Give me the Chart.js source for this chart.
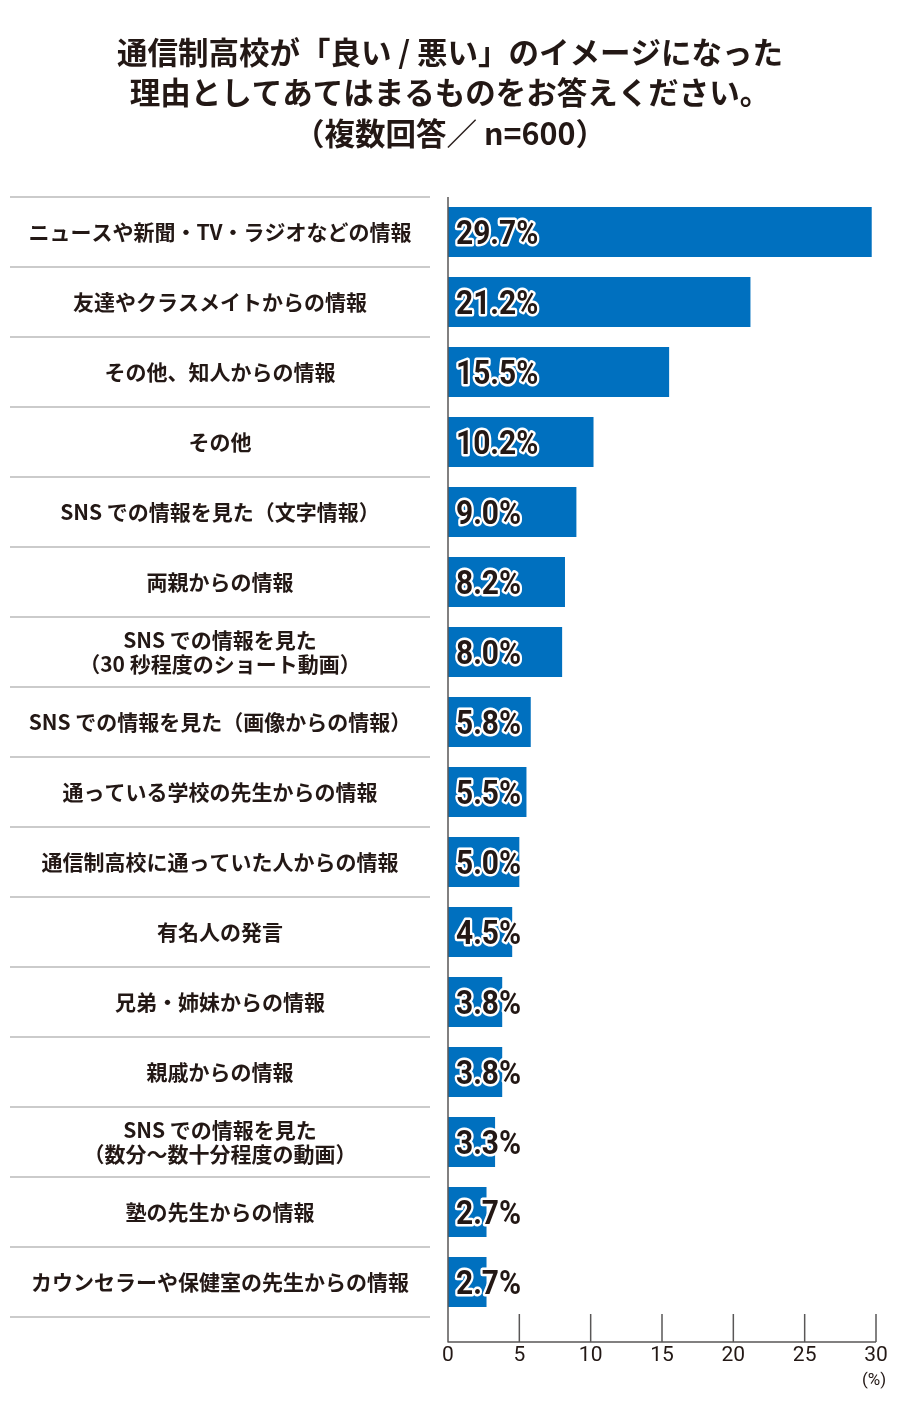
<!DOCTYPE html>
<html lang="ja">
<head>
<meta charset="utf-8">
<title>通信制高校のイメージの理由</title>
<script src="https://cdn.jsdelivr.net/npm/chart.js@4.4.1/dist/chart.umd.min.js"></script>
<style>
  html, body { margin: 0; padding: 0; background: #fff; }
  #wrap { width: 900px; height: 1410px; }
</style>
</head>
<body>
<div id="wrap"><canvas id="chart" width="900" height="1410"></canvas></div>
<script>
const titleLines = [
    '通信制高校が「良い / 悪い」のイメージになった',
    '理由としてあてはまるものをお答えください。',
    '（複数回答／ n=600）'
];

const categories = [
    'ニュースや新聞・TV・ラジオなどの情報',
    '友達やクラスメイトからの情報',
    'その他、知人からの情報',
    'その他',
    'SNS での情報を見た（文字情報）',
    '両親からの情報',
    ['SNS での情報を見た', '（30 秒程度のショート動画）'],
    'SNS での情報を見た（画像からの情報）',
    '通っている学校の先生からの情報',
    '通信制高校に通っていた人からの情報',
    '有名人の発言',
    '兄弟・姉妹からの情報',
    '親戚からの情報',
    ['SNS での情報を見た', '（数分〜数十分程度の動画）'],
    '塾の先生からの情報',
    'カウンセラーや保健室の先生からの情報'
];

const percents = [29.7, 21.2, 15.5, 10.2, 9.0, 8.2, 8.0, 5.8, 5.5, 5.0, 4.5, 3.8, 3.8, 3.3, 2.7, 2.7];

const xTicks = [0, 5, 10, 15, 20, 25, 30];
const unitLabel = '(%)';

const inkColor = '#231815';
const jpFont = '"Noto Sans CJK JP", "Noto Sans", sans-serif';
const numFont = 'Roboto, "Liberation Sans", sans-serif';

// title, labels, separators, value labels and the bottom axis are drawn here
const decorPlugin = {
    id: 'decor',
    afterDatasetsDraw(chart) {
        const ctx = chart.ctx;
        const area = chart.chartArea;
        const x = chart.scales.x;
        const y = chart.scales.y;
        const half = (y.getPixelForValue(1) - y.getPixelForValue(0)) / 2;
        const axisY = area.bottom + 25;

        ctx.save();

        // title
        ctx.fillStyle = inkColor;
        ctx.font = 'bold 30.5px ' + jpFont;
        ctx.textAlign = 'center';
        ctx.textBaseline = 'middle';
        titleLines.forEach((t, i) => ctx.fillText(t, 450, 52 + i * 40.5));

        // row separators + category labels
        ctx.strokeStyle = '#cbcbcb';
        ctx.lineWidth = 2;
        for (let i = 0; i <= categories.length; i++) {
            const yy = Math.round(y.getPixelForValue(0) - half + i * half * 2);
            ctx.beginPath();
            ctx.moveTo(10, yy);
            ctx.lineTo(430, yy);
            ctx.stroke();
        }
        ctx.font = 'bold 21px ' + jpFont;
        categories.forEach((lab, i) => {
            const cy = y.getPixelForValue(i);
            if (Array.isArray(lab)) {
                ctx.fillText(lab[0], 220, cy - 12);
                ctx.fillText(lab[1], 220, cy + 12);
            } else {
                ctx.fillText(lab, 220, cy);
            }
        });

        // value labels on bars (condensed)
        const meta = chart.getDatasetMeta(0);
        ctx.font = 'bold 34px ' + numFont;
        ctx.textAlign = 'left';
        ctx.textBaseline = 'alphabetic';
        ctx.lineJoin = 'round';
        meta.data.forEach((bar, i) => {
            const txt = percents[i].toFixed(1) + '%';
            ctx.save();
            ctx.translate(bar.base + 8, bar.y + 12);
            ctx.scale(0.88, 1);
            ctx.strokeStyle = '#fff';
            ctx.lineWidth = 5;
            ctx.strokeText(txt, 0, 0);
            ctx.fillStyle = inkColor;
            ctx.fillText(txt, 0, 0);
            ctx.restore();
        });

        // axes
        ctx.strokeStyle = '#595757';
        ctx.lineWidth = 1.5;
        const x0 = x.getPixelForValue(0);
        ctx.beginPath();
        ctx.moveTo(x0, area.top);
        ctx.lineTo(x0, axisY);
        ctx.lineTo(x.getPixelForValue(xTicks[xTicks.length - 1]), axisY);
        ctx.stroke();
        xTicks.forEach(v => {
            const px = x.getPixelForValue(v);
            if (v > 0) {
                ctx.beginPath();
                ctx.moveTo(px, axisY - 28);
                ctx.lineTo(px, axisY);
                ctx.stroke();
            }
        });
        ctx.fillStyle = inkColor;
        ctx.font = '21px ' + numFont;
        ctx.textAlign = 'center';
        ctx.textBaseline = 'middle';
        xTicks.forEach(v => {
            ctx.fillText(String(v), x.getPixelForValue(v), axisY + 14);
        });
        ctx.font = '17px ' + numFont;
        ctx.fillText(unitLabel, x.getPixelForValue(xTicks[xTicks.length - 1]) - 2, axisY + 39);

        ctx.restore();
    }
};

new Chart(document.getElementById('chart'), {
    type: 'bar',
    data: {
        labels: categories,
        datasets: [{
            data: percents,
            backgroundColor: '#0070bf',
            borderWidth: 0,
            categoryPercentage: 1,
            barPercentage: 0.715
        }]
    },
    options: {
        indexAxis: 'y',
        responsive: false,
        animation: false,
        devicePixelRatio: 1,
        layout: {
            padding: { left: 448, right: 24, top: 197, bottom: 93 }
        },
        scales: {
            x: {
                display: false,
                min: xTicks[0],
                max: xTicks[xTicks.length - 1]
            },
            y: {
                display: false
            }
        },
        plugins: {
            legend: { display: false },
            tooltip: { enabled: false },
            title: { display: false }
        }
    },
    plugins: [decorPlugin]
});
</script>
</body>
</html>
